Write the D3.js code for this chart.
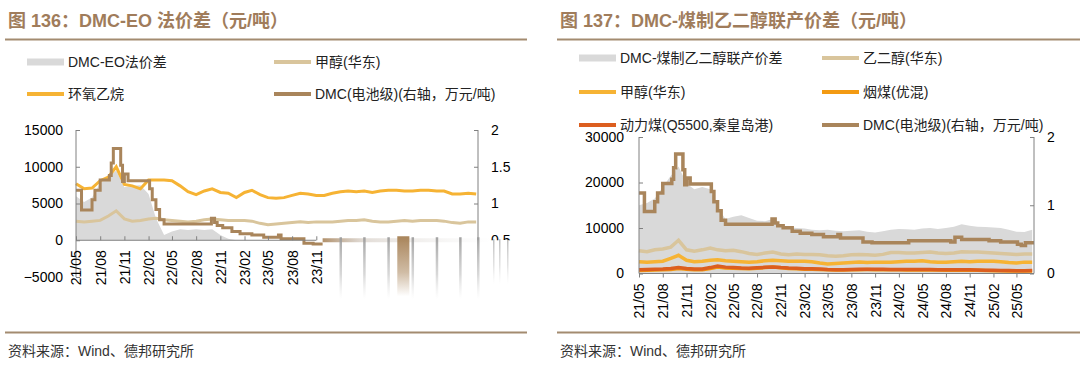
<!DOCTYPE html>
<html>
<head>
<meta charset="utf-8">
<script src="https://cdn.jsdelivr.net/npm/d3@7"></script>
<style>
  body { margin: 0; background: #fff; }
  text { font-family: "Liberation Sans", Arial, "Noto Sans CJK SC", sans-serif; }
  .title { font-size: 18px; font-weight: bold; fill: #A07C5B; }
  .legend { font-size: 14px; fill: #222; }
  .source { font-size: 14px; fill: #333; }
  .tick text { font-size: 14px; fill: #000; }
</style>
</head>
<body>
<svg id="chart" width="1080" height="379"></svg>
<script>
// 月度日期
const months = [
  '2021-05','2021-06','2021-07','2021-08','2021-09','2021-10','2021-11','2021-12',
  '2022-01','2022-02','2022-03','2022-04','2022-05','2022-06','2022-07','2022-08','2022-09','2022-10','2022-11','2022-12',
  '2023-01','2023-02','2023-03','2023-04','2023-05','2023-06','2023-07','2023-08','2023-09','2023-10','2023-11','2023-12',
  '2024-01','2024-02','2024-03','2024-04','2024-05','2024-06','2024-07','2024-08','2024-09','2024-10','2024-11','2024-12',
  '2025-01','2025-02','2025-03','2025-04','2025-05','2025-06','2025-07'
];
// 甲醇(华东) 元/吨
const methanol = [
  2600, 2500, 2600, 2700, 3300, 4000, 2900, 2600,
  2700, 2900, 3000, 2800, 2700, 2600, 2500, 2600, 2800, 2900, 2800, 2700,
  2700, 2700, 2600, 2300, 2100, 2200, 2300, 2400, 2500, 2400, 2500, 2500,
  2500, 2600, 2700, 2700, 2800, 2600, 2500, 2500, 2600, 2700, 2600, 2700,
  2700, 2700, 2600, 2400, 2300, 2500, 2500
];
// 环氧乙烷
const eo = [
  7700, 7000, 7100, 8100, 8600, 10000, 7600, 7400,
  7000, 8200, 8200, 8200, 8100, 7400, 6600, 6200, 6700, 7000, 6500, 6400,
  5800, 6500, 6800, 6200, 5800, 5700, 5800, 6100, 6400, 6300, 6100, 6100,
  6400, 6600, 6700, 6600, 6700, 6500, 6700, 6800, 6800, 6700, 6700, 6800,
  6800, 6700, 6700, 6300, 6300, 6400, 6300
];
// DMC-EO法价差
const spreadEO = [
  6000, 5200, 5800, 7800, 8600, 9500, 7200, 7400,
  7500, 6300, 3000, 700, 1200, 1500, 1400, 1500, 1400, 1500, 700, 200,
  0, 0, 0, 0, 0, 0, 0, 0, 0, 0, 0, 0,
  0, 0, 0, 0, 0, 0, 0, 0, 0, 0, 0, 0,
  0, 0, 0, 0, 0, 0, 0
];
// 乙二醇(华东)
const eg = [
  5000, 4800, 5200, 5400, 5800, 7300, 5200, 4900,
  5200, 5600, 5200, 5000, 5100, 4800, 4400, 4200, 4500, 4700, 4300, 4100,
  4300, 4200, 4200, 4100, 3900, 3800, 3900, 4100, 4200, 4100, 4000, 4200,
  4600, 4600, 4500, 4500, 4600, 4700, 4500, 4400, 4500, 4800, 4700, 4700,
  4600, 4500, 4400, 4300, 4200, 4300, 4300
];
// DMC-煤制乙二醇联产价差
const spreadEG = [
  15000, 15500, 16500, 19000, 21500, 23500, 19800, 18500,
  19000, 18500, 14500, 12000, 12500, 12800, 12200, 11600, 11500, 12000, 10500, 10200,
  10000, 9900, 9600, 9500, 9600, 9400, 9300, 9400, 9500, 9200, 9000, 9300,
  9600, 9800, 9700, 9600, 9900, 10000, 9800, 10000, 10300, 10800, 10500, 10300,
  10200, 10100, 10000, 9600, 9200, 9100, 9600
];
// 烟煤(优混)
const bitCoal = [
  650, 700, 750, 800, 900, 1100, 950, 850,
  850, 1100, 1400, 1200, 1150, 1100, 1050, 1150, 1300, 1450, 1250, 1100,
  1050, 950, 950, 900, 800, 750, 760, 800, 850, 860, 850, 850,
  800, 800, 780, 760, 770, 760, 750, 740, 730, 740, 730, 690,
  650, 610, 590, 560, 530, 540, 560
];
// 动力煤(Q5500,秦皇岛港)
const thermalCoal = [
  850, 900, 950, 1000, 1100, 1300, 1100, 1000,
  1000, 1300, 1650, 1400, 1300, 1200, 1150, 1250, 1350, 1450, 1300, 1200,
  1150, 1050, 1050, 1000, 900, 850, 850, 900, 950, 950, 950, 950,
  900, 900, 880, 860, 870, 860, 850, 840, 830, 840, 830, 780,
  740, 700, 680, 650, 620, 620, 640
];
// DMC(电池级) 万元/吨，阶梯变化
const dmcDates = [
  '2021-05-01','2021-05-22','2021-07-01','2021-07-12','2021-08-01','2021-09-05','2021-09-12','2021-09-20',
  '2021-10-18','2021-10-25','2021-11-01','2021-11-15','2022-02-05','2022-02-15','2022-03-01','2022-03-15',
  '2022-04-01','2022-09-28','2022-10-10','2022-10-20','2022-11-10','2022-12-15','2023-01-15','2023-03-01',
  '2023-04-15','2023-06-10','2023-06-20','2023-09-15','2023-10-20','2024-03-10','2024-08-20','2024-09-05',
  '2024-10-01','2025-01-15','2025-03-01','2025-05-05','2025-05-20','2025-06-05','2025-07-08'
];
const dmcValues = [
  1.18, 0.91, 1.05, 1.18, 1.32, 1.38, 1.55, 1.75,
  1.52, 1.30, 1.40, 1.31, 1.20, 1.05, 0.92, 0.78,
  0.72, 0.80, 0.74, 0.70, 0.67, 0.62, 0.59, 0.57,
  0.54, 0.57, 0.52, 0.46, 0.45, 0.48, 0.46, 0.53,
  0.50, 0.48, 0.46, 0.43, 0.41, 0.45, 0.45
];
// 刻度
const leftYTicks = [-5000, 0, 5000, 10000, 15000];
const leftY2Ticks = [1, 1.5, 2];
const rightYTicks = [0, 10000, 20000, 30000];
const rightY2Ticks = [0, 1, 2];
const leftXTicks = ['2021-05','2021-08','2021-11','2022-02','2022-05','2022-08','2022-11','2023-02','2023-05','2023-08','2023-11'];
const rightXTicks = ['2021-05','2021-08','2021-11','2022-02','2022-05','2022-08','2022-11','2023-02','2023-05','2023-08','2023-11',
  '2024-02','2024-05','2024-08','2024-11','2025-02','2025-05'];
// 左图右侧残影刻度
const ghostTicks = ['2024-02','2024-05','2024-08','2024-11','2025-02','2025-05','2025-07-08'];

const COLORS = {
  grey: '#D9D9D9', tan: '#D9C59C', yellow: '#F6B334', orange: '#F39A12',
  red: '#DC5E1F', brown: '#A9855B', axis: '#808080', rule: '#A38B70'
};

const parseM = d3.timeParse('%Y-%m');
const parseD = d3.timeParse('%Y-%m-%d');
const toDate = s => s.length > 7 ? parseD(s) : parseM(s);
const fmt = d3.timeFormat('%y/%m');
const numFmt = d3.format('d');

const rows = months.map((m, i) => ({
  date: parseM(m), methanol: methanol[i], eo: eo[i], spreadEO: spreadEO[i],
  eg: eg[i], spreadEG: spreadEG[i], bitCoal: bitCoal[i], thermalCoal: thermalCoal[i]
}));
const dmc = dmcDates.map((d, i) => ({ date: parseD(d), v: dmcValues[i] }));

const svg = d3.select('#chart');
const defs = svg.append('defs');
const xStart = parseM('2021-05');
const xEnd = parseD('2025-07-08');

// 标题 + 分隔线 + 资料来源
function header(x0, x1, title) {
  svg.append('text').attr('class', 'title').attr('x', x0 + 3).attr('y', 27).text(title);
  svg.append('line').attr('x1', x0).attr('x2', x1).attr('y1', 39.5).attr('y2', 39.5)
    .attr('stroke', COLORS.rule).attr('stroke-width', 2);
  svg.append('line').attr('x1', x0).attr('x2', x1).attr('y1', 332.5).attr('y2', 332.5)
    .attr('stroke', COLORS.rule).attr('stroke-width', 2);
  svg.append('text').attr('class', 'source').attr('x', x0 + 3).attr('y', 356).text('资料来源：Wind、德邦研究所');
}

function legend(items) {
  items.forEach(it => {
    if (it.type === 'area') {
      svg.append('rect').attr('x', it.x).attr('y', it.y - 3.5).attr('width', 37).attr('height', 7).attr('fill', it.color);
    } else {
      svg.append('line').attr('x1', it.x).attr('x2', it.x + 37).attr('y1', it.y).attr('y2', it.y)
        .attr('stroke', it.color).attr('stroke-width', 4);
    }
    svg.append('text').attr('class', 'legend').attr('x', it.x + 41).attr('y', it.y).attr('dy', '0.35em').text(it.label);
  });
}

function styleAxis(g) {
  g.select('.domain').remove();
  g.selectAll('.tick line').attr('stroke', COLORS.axis);
}

function xLabels(g) {
  g.selectAll('.tick text')
    .attr('transform', 'rotate(-90)')
    .attr('text-anchor', 'end')
    .attr('x', -10).attr('y', 0).attr('dy', '0.35em');
}

// ================= 图136 =================
header(5, 527, '图 136：DMC-EO 法价差（元/吨）');
legend([
  { type: 'area', color: COLORS.grey, label: 'DMC-EO法价差', x: 27, y: 62 },
  { type: 'line', color: COLORS.tan, label: '甲醇(华东)', x: 274, y: 62 },
  { type: 'line', color: COLORS.yellow, label: '环氧乙烷', x: 27, y: 94 },
  { type: 'line', color: COLORS.brown, label: 'DMC(电池级)(右轴，万元/吨)', x: 274, y: 94 }
]);

const xL = d3.scaleTime().domain([xStart, xEnd]).range([76, 478]);
const yL = d3.scaleLinear().domain([-5000, 15000]).range([277, 130]);
const yL2 = d3.scaleLinear().domain([0, 2]).range([277, 130]);
const gL = svg.append('g');

gL.append('path').datum(rows)
  .attr('fill', COLORS.grey)
  .attr('d', d3.area().x(d => xL(d.date)).y0(yL(0)).y1(d => yL(d.spreadEO)));
gL.append('path').datum(rows)
  .attr('fill', 'none').attr('stroke', COLORS.tan).attr('stroke-width', 3)
  .attr('d', d3.line().x(d => xL(d.date)).y(d => yL(d.methanol)));
gL.append('path').datum(rows)
  .attr('fill', 'none').attr('stroke', COLORS.yellow).attr('stroke-width', 3)
  .attr('d', d3.line().x(d => xL(d.date)).y(d => yL(d.eo)));

defs.append('clipPath').attr('id', 'clipDmcL').append('rect')
  .attr('x', 0).attr('y', 0).attr('width', xL(parseD('2023-11-25'))).attr('height', 379);
gL.append('path').datum(dmc)
  .attr('clip-path', 'url(#clipDmcL)')
  .attr('fill', 'none').attr('stroke', COLORS.brown).attr('stroke-width', 3)
  .attr('d', d3.line().curve(d3.curveStepAfter).x(d => xL(d.date)).y(d => yL2(d.v)));

// 轴
gL.append('line').attr('x1', xL(xStart)).attr('x2', xL(xStart)).attr('y1', yL(15000)).attr('y2', yL(-5000))
  .attr('stroke', COLORS.axis);
gL.append('g').attr('transform', `translate(${xL(xStart)},0)`)
  .call(d3.axisLeft(yL).tickValues(leftYTicks).tickSize(-4).tickPadding(13).tickSizeOuter(0).tickFormat(numFmt))
  .call(styleAxis);
gL.append('line').attr('x1', xL(xEnd)).attr('x2', xL(xEnd)).attr('y1', yL2(2)).attr('y2', yL2(0.5))
  .attr('stroke', COLORS.axis);
gL.append('g').attr('transform', `translate(${xL(xEnd)},0)`)
  .call(d3.axisRight(yL2).tickValues(leftY2Ticks).tickSize(-4).tickPadding(13).tickSizeOuter(0)
    .tickFormat(d3.format('')))
  .call(styleAxis);
gL.append('line').attr('x1', xL(xStart)).attr('x2', xL(parseM('2023-11'))).attr('y1', yL(0)).attr('y2', yL(0))
  .attr('stroke', COLORS.axis);
gL.append('g').attr('transform', `translate(0,${yL(0)})`)
  .call(d3.axisBottom(xL).tickValues(leftXTicks.map(parseM)).tickSize(-4).tickFormat(fmt))
  .call(styleAxis)
  .call(xLabels);

// 左图右下残影
const gFadeV = defs.append('linearGradient').attr('id', 'fadeV').attr('x1', 0).attr('x2', 0).attr('y1', 0).attr('y2', 1);
gFadeV.append('stop').attr('offset', '0%').attr('stop-color', '#999').attr('stop-opacity', 0.9);
gFadeV.append('stop').attr('offset', '60%').attr('stop-color', '#c8c8c8').attr('stop-opacity', 0.7);
gFadeV.append('stop').attr('offset', '100%').attr('stop-color', '#e0e0e0').attr('stop-opacity', 0);
const bFadeV = defs.append('linearGradient').attr('id', 'fadeBrown').attr('x1', 0).attr('x2', 0).attr('y1', 0).attr('y2', 1);
bFadeV.append('stop').attr('offset', '0%').attr('stop-color', COLORS.brown).attr('stop-opacity', 1);
bFadeV.append('stop').attr('offset', '60%').attr('stop-color', COLORS.brown).attr('stop-opacity', 0.55);
bFadeV.append('stop').attr('offset', '100%').attr('stop-color', COLORS.brown).attr('stop-opacity', 0);
const hFade = defs.append('linearGradient').attr('id', 'fadeH');
hFade.append('stop').attr('offset', '0%').attr('stop-color', COLORS.brown).attr('stop-opacity', 0.9);
hFade.append('stop').attr('offset', '25%').attr('stop-color', '#b0a090').attr('stop-opacity', 0.35);
hFade.append('stop').attr('offset', '100%').attr('stop-color', '#ccc').attr('stop-opacity', 0);

const ghost = gL.append('g');
ghost.append('rect')
  .attr('x', xL(parseD('2023-11-25'))).attr('y', yL(0) - 2)
  .attr('width', xL(parseD('2025-09-01')) - xL(parseD('2023-11-25'))).attr('height', 4)
  .attr('fill', 'url(#fadeH)');
ghostTicks.forEach(t => {
  ghost.append('rect').attr('x', xL(toDate(t)) - 1).attr('y', yL(0) - 3)
    .attr('width', 2.5).attr('height', 62).attr('fill', 'url(#fadeV)');
});
ghost.append('rect')
  .attr('x', xL(parseD('2024-09-04'))).attr('y', yL(0) - 4)
  .attr('width', xL(parseD('2024-10-20')) - xL(parseD('2024-09-04'))).attr('height', 60)
  .attr('fill', 'url(#fadeBrown)');
[15, 21, 29].forEach(dx => {
  ghost.append('rect').attr('x', xL(xEnd) + dx).attr('y', yL(0) - 1)
    .attr('width', 1.5).attr('height', 45).attr('fill', 'url(#fadeV)').attr('opacity', 0.7);
});
defs.append('clipPath').attr('id', 'clipHalf').append('rect')
  .attr('x', 0).attr('y', 0).attr('width', 1080).attr('height', yL2(0.5));
ghost.append('text').attr('clip-path', 'url(#clipHalf)')
  .attr('x', xL(xEnd) + 13).attr('y', yL2(0.5)).attr('dy', '0.35em')
  .style('font-size', '14px').text('0.5');

// ================= 图137 =================
header(557, 1080, '图 137：DMC-煤制乙二醇联产价差（元/吨）');
legend([
  { type: 'area', color: COLORS.grey, label: 'DMC-煤制乙二醇联产价差', x: 579, y: 58 },
  { type: 'line', color: COLORS.tan, label: '乙二醇(华东)', x: 822, y: 58 },
  { type: 'line', color: COLORS.yellow, label: '甲醇(华东)', x: 579, y: 92 },
  { type: 'line', color: COLORS.orange, label: '烟煤(优混)', x: 822, y: 92 },
  { type: 'line', color: COLORS.red, label: '动力煤(Q5500,秦皇岛港)', x: 579, y: 125 },
  { type: 'line', color: COLORS.brown, label: 'DMC(电池级)(右轴，万元/吨)', x: 822, y: 125 }
]);

const xR = d3.scaleTime().domain([xStart, xEnd]).range([639, 1034]);
const yR = d3.scaleLinear().domain([0, 30000]).range([273.5, 137]);
const yR2 = d3.scaleLinear().domain([0, 2]).range([273.5, 137]);
const gR = svg.append('g');

gR.append('path').datum(rows)
  .attr('fill', COLORS.grey)
  .attr('d', d3.area().x(d => xR(d.date)).y0(yR(0)).y1(d => yR(d.spreadEG)));
[['eg', COLORS.tan], ['methanol', COLORS.yellow], ['bitCoal', COLORS.orange], ['thermalCoal', COLORS.red]]
  .forEach(([key, color]) => {
    gR.append('path').datum(rows)
      .attr('fill', 'none').attr('stroke', color).attr('stroke-width', 3.5)
      .attr('d', d3.line().x(d => xR(d.date)).y(d => yR(d[key])));
  });
gR.append('path').datum(dmc)
  .attr('fill', 'none').attr('stroke', COLORS.brown).attr('stroke-width', 3.5)
  .attr('d', d3.line().curve(d3.curveStepAfter).x(d => xR(d.date)).y(d => yR2(d.v)));

gR.append('line').attr('x1', xR(xStart)).attr('x2', xR(xStart)).attr('y1', yR(30000)).attr('y2', yR(0))
  .attr('stroke', COLORS.axis);
gR.append('g').attr('transform', `translate(${xR(xStart)},0)`)
  .call(d3.axisLeft(yR).tickValues(rightYTicks).tickSize(-4).tickPadding(15).tickSizeOuter(0).tickFormat(numFmt))
  .call(styleAxis);
gR.append('line').attr('x1', xR(xEnd)).attr('x2', xR(xEnd)).attr('y1', yR2(2)).attr('y2', yR2(0))
  .attr('stroke', COLORS.axis);
gR.append('g').attr('transform', `translate(${xR(xEnd)},0)`)
  .call(d3.axisRight(yR2).tickValues(rightY2Ticks).tickSize(-4).tickPadding(13).tickSizeOuter(0).tickFormat(numFmt))
  .call(styleAxis);
gR.append('line').attr('x1', xR(xStart)).attr('x2', xR(xEnd)).attr('y1', yR(0)).attr('y2', yR(0))
  .attr('stroke', COLORS.axis);
gR.append('g').attr('transform', `translate(0,${yR(0)})`)
  .call(d3.axisBottom(xR).tickValues(rightXTicks.map(parseM)).tickSize(4).tickFormat(fmt))
  .call(styleAxis)
  .call(xLabels);
</script>
</body>
</html>
